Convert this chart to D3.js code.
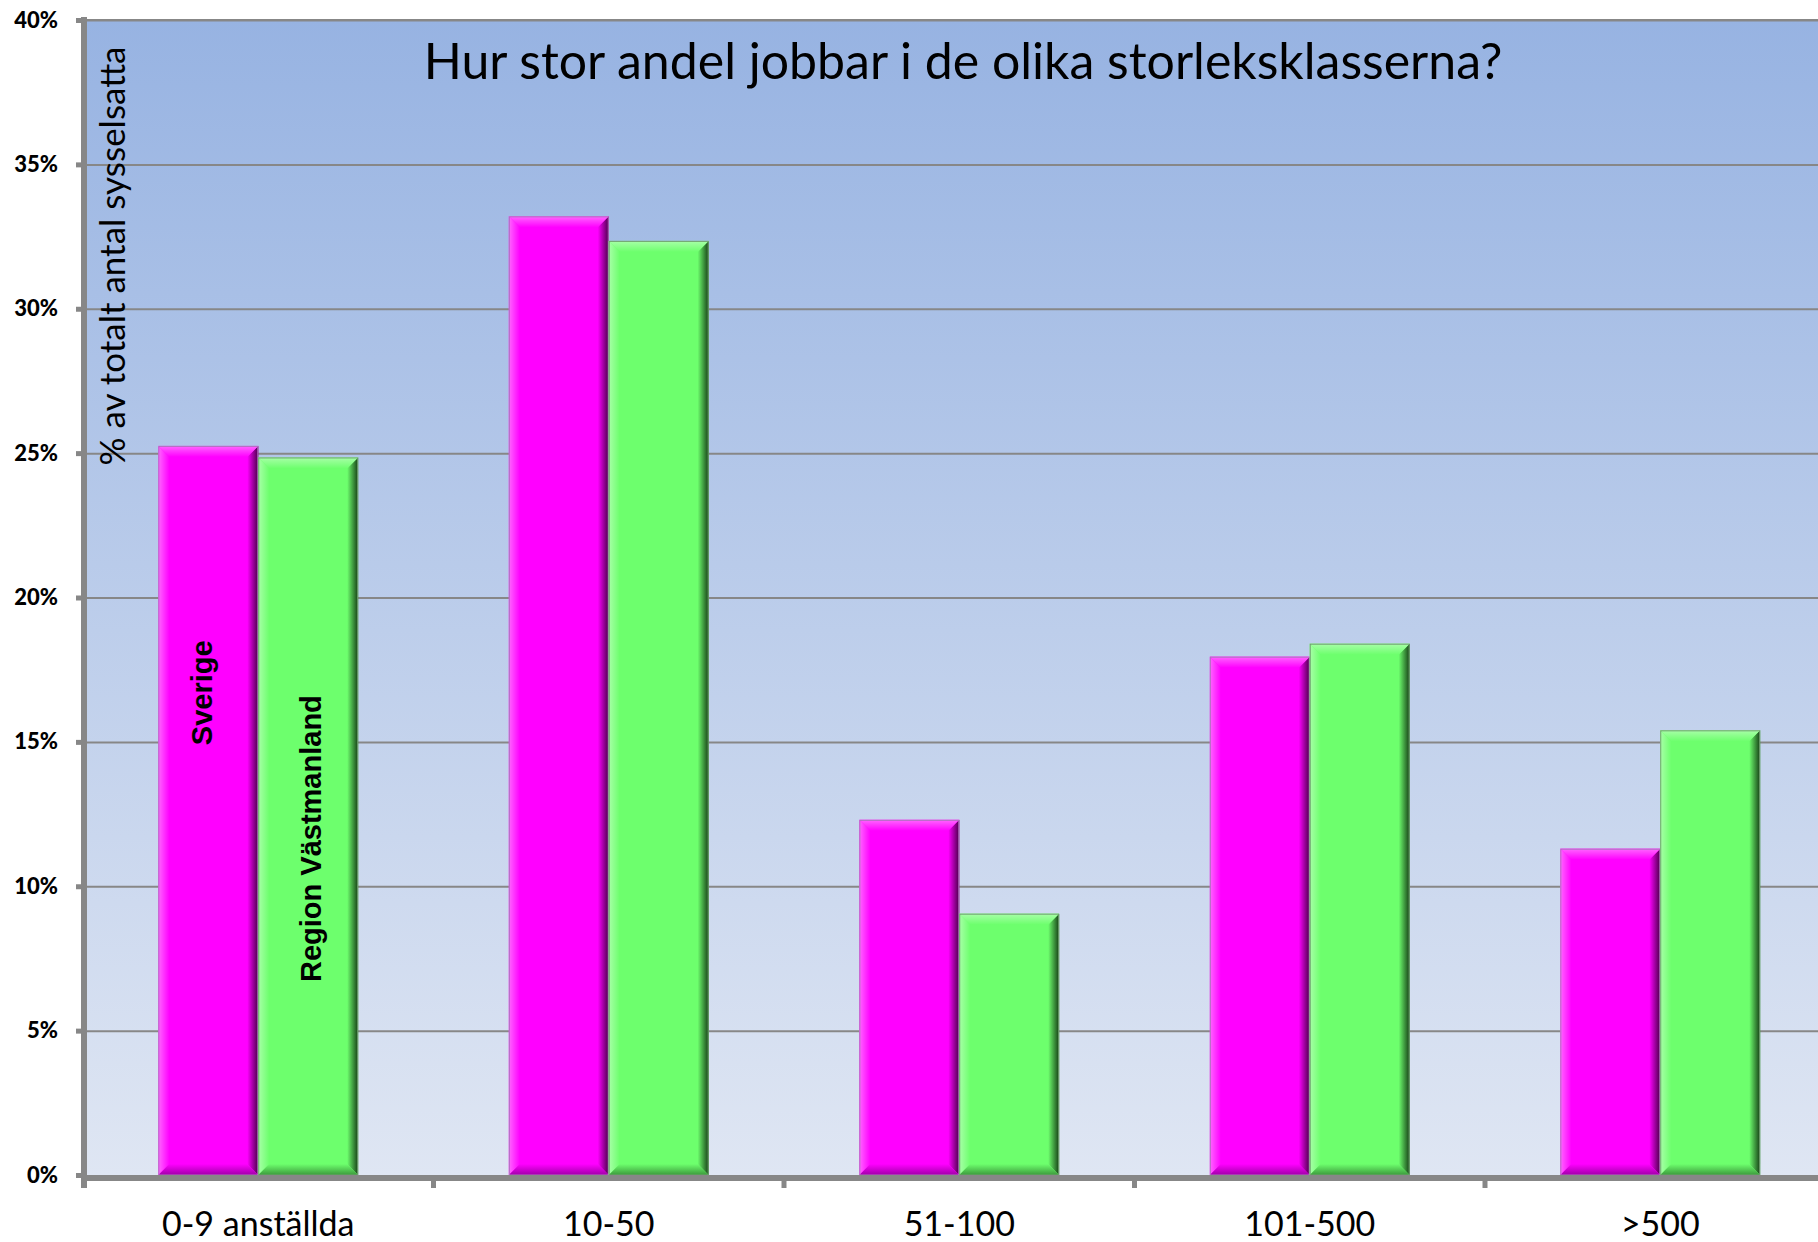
<!DOCTYPE html>
<html>
<head>
<meta charset="utf-8">
<script src="https://cdn.jsdelivr.net/npm/d3@7"></script>
<style>
  html, body { margin: 0; padding: 0; background: #fff; }
  svg { display: block; }
</style>
</head>
<body>
<div id="chart"></div>
<script>
// chart values (percent of total employed)
var categories = ["0-9 anställda", "10-50", "51-100", "101-500", ">500"];
var seriesNames = ["Sverige", "Region Västmanland"];
var sverige = [25.25, 33.2, 12.3, 17.95, 11.3];
var vastmanland = [24.85, 32.35, 9.05, 18.4, 15.4];
var yTicks = [0, 5, 10, 15, 20, 25, 30, 35, 40];
var titleText = "Hur stor andel jobbar i de olika storleksklasserna?";
var yLabel = "% av totalt antal sysselsatta";

var W = 1818, H = 1242;
var axisX = 84, plotTop = 20, base = 1175;
var step = 350.5;

var svg = d3.select("#chart").append("svg")
    .attr("width", W).attr("height", H);

var defs = svg.append("defs");

var bg = defs.append("linearGradient").attr("id", "bg")
    .attr("x1", 0).attr("y1", 0).attr("x2", 0).attr("y2", 1);
bg.append("stop").attr("offset", 0).attr("stop-color", "#97b3e2");
bg.append("stop").attr("offset", 1).attr("stop-color", "#dfe6f3");

var colors = {
  "Sverige": {base: "#ff00ff", light: "#ff66ff", dark: "#4a004a", low: "#a000a8", edge: "#b070c0"},
  "Region Västmanland": {base: "#6dff6d", light: "#a8ffa8", dark: "#163f16", low: "#3c9a3c", edge: "#70a070"}
};

function grad(id, vertical, c1, c2) {
  var g = defs.append("linearGradient").attr("id", id)
      .attr("x1", 0).attr("y1", 0)
      .attr("x2", vertical ? 0 : 1).attr("y2", vertical ? 1 : 0);
  g.append("stop").attr("offset", 0).attr("stop-color", c1);
  g.append("stop").attr("offset", 1).attr("stop-color", c2);
}
seriesNames.forEach(function(s, i){
  var c = colors[s];
  grad("top" + i, true, c.light, c.base);
  grad("right" + i, false, c.base, c.dark);
  grad("bot" + i, true, c.base, c.low);
  grad("left" + i, false, c.light, c.base);
});

var y = d3.scaleLinear().domain([0, 40]).range([base, plotTop]);

var x = d3.scaleBand()
    .domain(categories)
    .range([axisX - 1, axisX - 1 + step * categories.length])
    .paddingInner(0.43)
    .paddingOuter(0.215);

var xs = d3.scaleBand().domain(seriesNames).range([0, x.bandwidth()]);

// plot background
svg.append("rect")
    .attr("x", axisX).attr("y", plotTop)
    .attr("width", W - axisX).attr("height", base - plotTop)
    .attr("fill", "url(#bg)");

// gridlines
svg.append("g")
    .attr("transform", "translate(" + axisX + ",0)")
    .call(d3.axisRight(y).tickValues(yTicks.slice(1)).tickSize(W - axisX).tickFormat(""))
    .call(function(g){ g.select(".domain").remove(); })
    .selectAll("line").attr("stroke", "#878787").attr("stroke-width", 2);

// title
svg.append("text")
    .attr("x", 963).attr("y", 79)
    .attr("text-anchor", "middle")
    .attr("font-family", "Lato, 'Open Sans', sans-serif")
    .attr("font-size", 50)
    .attr("fill", "#000")
    .text(titleText);

// y label
svg.append("text")
    .attr("transform", "translate(125,256) rotate(-90)")
    .attr("text-anchor", "middle")
    .attr("font-family", "Lato, 'Open Sans', sans-serif")
    .attr("font-size", 35)
    .attr("fill", "#000")
    .text(yLabel);

// bars
var data = categories.map(function(c, i){
  return {cat: c, values: [
    {s: seriesNames[0], k: 0, v: sverige[i]},
    {s: seriesNames[1], k: 1, v: vastmanland[i]}
  ]};
});

var bev = 11;
var bars = svg.append("g").selectAll("g.grp").data(data).enter().append("g")
    .attr("transform", function(d){ return "translate(" + x(d.cat) + ",0)"; })
  .selectAll("g.bar").data(function(d){ return d.values; }).enter().append("g");

bars.each(function(d){
  var g = d3.select(this);
  var bx = xs(d.s), bw = xs.bandwidth(), by = y(d.v), bh = base - y(d.v);
  var c = colors[d.s];
  g.append("rect").attr("x", bx).attr("y", by).attr("width", bw).attr("height", bh)
      .attr("fill", c.base);
  function poly(pts, fill) {
    g.append("polygon").attr("points", pts.map(function(p){ return p.join(","); }).join(" "))
        .attr("fill", fill);
  }
  poly([[bx, by], [bx + bev, by + bev], [bx + bev, by + bh - bev], [bx, by + bh]], "url(#left" + d.k + ")");
  poly([[bx + bw, by], [bx + bw, by + bh], [bx + bw - bev, by + bh - bev], [bx + bw - bev, by + bev]], "url(#right" + d.k + ")");
  poly([[bx, by + bh], [bx + bw, by + bh], [bx + bw - bev, by + bh - bev], [bx + bev, by + bh - bev]], "url(#bot" + d.k + ")");
  poly([[bx, by], [bx + bw, by], [bx + bw - bev, by + bev], [bx + bev, by + bev]], "url(#top" + d.k + ")");
  g.append("rect").attr("x", bx + 0.5).attr("y", by + 0.5).attr("width", bw - 1).attr("height", bh - 0.5)
      .attr("fill", "none").attr("stroke", c.edge).attr("stroke-width", 1);
});

// series labels inside first group
var labelPos = [16.7, 11.65];
var labelShift = [-6, 3];
seriesNames.forEach(function(s, k){
  var cx = x(categories[0]) + xs(s) + xs.bandwidth() / 2 + labelShift[k];
  svg.append("text")
      .attr("transform", "translate(" + cx + "," + y(labelPos[k]) + ") rotate(-90)")
      .attr("text-anchor", "middle")
      .attr("dominant-baseline", "central")
      .attr("font-family", "'Liberation Sans', Arial, sans-serif")
      .attr("font-weight", "bold")
      .attr("font-size", 29)
      .attr("fill", "#000")
      .text(s);
});

// y axis
var yAxis = svg.append("g")
    .attr("transform", "translate(" + axisX + ",0)")
    .call(d3.axisLeft(y).tickValues(yTicks).tickFormat(function(d){ return d + "%"; })
        .tickSize(8).tickPadding(18));
yAxis.select(".domain").remove();
yAxis.selectAll(".tick line").attr("stroke", "#878787").attr("stroke-width", 5);
yAxis.selectAll(".tick text")
    .attr("font-family", "Lato, 'Open Sans', sans-serif")
    .attr("font-weight", "900")
    .attr("font-size", 22)
    .attr("fill", "#000");

svg.append("line")
    .attr("x1", axisX).attr("x2", axisX).attr("y1", plotTop - 3).attr("y2", base + 13)
    .attr("stroke", "#878787").attr("stroke-width", 6);
svg.append("line")
    .attr("x1", axisX).attr("x2", W).attr("y1", plotTop).attr("y2", plotTop)
    .attr("stroke", "#878787").attr("stroke-width", 2);

// x axis
svg.append("line")
    .attr("x1", axisX - 3).attr("x2", W).attr("y1", base + 3).attr("y2", base + 3)
    .attr("stroke", "#878787").attr("stroke-width", 6);

var gap = (x.step() - x.bandwidth()) / 2;
svg.append("g").selectAll("line").data(categories.slice(1)).enter().append("line")
    .attr("x1", function(d){ return x(d) - gap; })
    .attr("x2", function(d){ return x(d) - gap; })
    .attr("y1", base + 3).attr("y2", base + 13)
    .attr("stroke", "#878787").attr("stroke-width", 5);

svg.append("g").selectAll("text").data(categories).enter().append("text")
    .attr("x", function(d){ return x(d) + x.bandwidth() / 2; })
    .attr("y", 1236)
    .attr("text-anchor", "middle")
    .attr("font-family", "Lato, 'Open Sans', sans-serif")
    .attr("font-size", 34)
    .attr("fill", "#000")
    .text(function(d){ return d; });
</script>
</body>
</html>
